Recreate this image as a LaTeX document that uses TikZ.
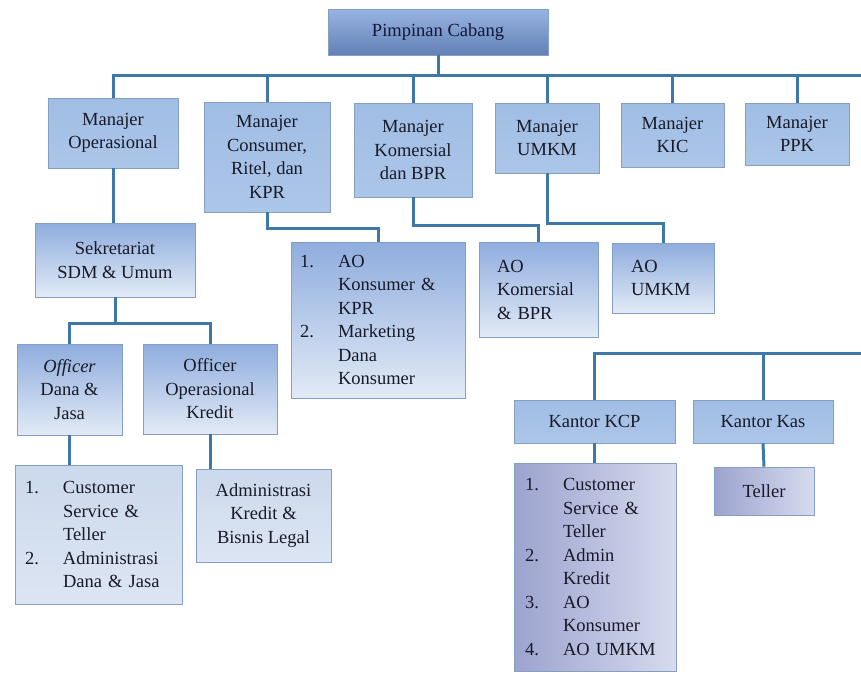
\documentclass[tikz,border=0pt]{standalone}
\usepackage{fontspec}
\setmainfont{Liberation Serif}
\definecolor{linec}{RGB}{62,120,168}
\definecolor{edgec}{RGB}{132,158,198}
\definecolor{txtc}{RGB}{24,26,40}
\newlength{\lblw}
\setlength{\lblw}{38pt}
\newcommand{\itm}[2]{\makebox[\lblw][l]{#1}#2}
\newcommand{\cnt}[1]{\hspace*{\lblw}#1}
\begin{document}
\begin{tikzpicture}[x=1pt,y=-1pt]
    \tikzset{
        box/.style={draw=edgec, line width=0.6pt, inner sep=0pt, text=txtc,
            font=\fontsize{18.5}{23.5}\selectfont},
        head/.style={box, top color={rgb,255:red,152;green,180;blue,228},
            bottom color={rgb,255:red,98;green,128;blue,180}, text={rgb,255:red,18;green,24;blue,56}},
        mgr/.style={box, align=center, top color={rgb,255:red,160;green,189;blue,228},
            bottom color={rgb,255:red,172;green,198;blue,232}},
        sub/.style={box, top color={rgb,255:red,143;green,173;blue,222},
            bottom color={rgb,255:red,226;green,234;blue,246}},
        pale/.style={box, top color={rgb,255:red,204;green,217;blue,236},
            bottom color={rgb,255:red,220;green,229;blue,243}},
        lilac/.style={box, left color={rgb,255:red,156;green,163;blue,206},
            right color={rgb,255:red,214;green,219;blue,238}},
        link/.style={draw=linec, line width=3pt}
    }
    \useasboundingbox (0,0) rectangle (861,673);

    % top level
    \draw node[head, minimum width=220, minimum height=46] (pc) at (438,32) {Pimpinan Cabang};
    \draw node[mgr, minimum width=130, minimum height=70] (mo) at (113,133) {Manajer\\Operasional};
    \draw node[mgr, minimum width=126, minimum height=110] (mc) at (267,157) {Manajer\\Consumer,\\Ritel, dan\\KPR};
    \draw node[mgr, minimum width=118, minimum height=94] (mk) at (413,150) {Manajer\\Komersial\\dan BPR};
    \draw node[mgr, minimum width=104, minimum height=70] (mu) at (547,138) {Manajer\\UMKM};
    \draw node[mgr, minimum width=103, minimum height=64] (mkic) at (672.5,135) {Manajer\\KIC};
    \draw node[mgr, minimum width=104, minimum height=62] (mppk) at (797,134) {Manajer\\PPK};

    % operasional branch
    \draw node[sub, align=center, minimum width=160, minimum height=74] (sk) at (115,260) {Sekretariat\\SDM \& Umum};
    \draw node[sub, align=center, minimum width=105, minimum height=91] (od) at (69.5,389.5) {\textit{Officer}\\Dana \&\\Jasa};
    \draw node[sub, align=center, minimum width=134, minimum height=90] (ok) at (210,389) {Officer\\Operasional\\Kredit};
    \draw node[pale, align=left, text width=147, minimum width=167, minimum height=139] (l1) at (98.5,534.5)
        {\itm{1.}{Customer}\\\cnt{Service \&}\\\cnt{Teller}\\\itm{2.}{Administrasi}\\\cnt{Dana \& Jasa}};
    \draw node[pale, align=center, minimum width=135, minimum height=93] (l2) at (263.5,515.5) {Administrasi\\Kredit \&\\Bisnis Legal};

    % AO boxes
    \draw node[sub, align=left, text width=156, minimum width=174, minimum height=156] (ak) at (378,320)
        {\itm{1.}{AO}\\\cnt{Konsumer \&}\\\cnt{KPR}\\\itm{2.}{Marketing}\\\cnt{Dana}\\\cnt{Konsumer}};
    \draw node[sub, align=left, text width=83, minimum width=119, minimum height=95] (ako) at (538.5,289.5) {AO\\Komersial\\\& BPR};
    \draw node[sub, align=left, text width=64, minimum width=102, minimum height=70] (au) at (663,278) {AO\\UMKM};

    % kantor
    \draw node[mgr, minimum width=161, minimum height=43] (kcp) at (594.5,421.5) {Kantor KCP};
    \draw node[mgr, minimum width=140, minimum height=43] (kas) at (763,421.5) {Kantor Kas};
    \draw node[lilac, align=left, text width=140, minimum width=162, minimum height=208] (l3) at (595,567)
        {\itm{1.}{Customer}\\\cnt{Service \&}\\\cnt{Teller}\\\itm{2.}{Admin}\\\cnt{Kredit}\\\itm{3.}{AO}\\\cnt{Konsumer}\\\itm{4.}{AO UMKM}};
    \draw node[lilac, minimum width=100, minimum height=48] (tl) at (764,491) {Teller};

    % connectors
    \coordinate (busa) at (861,75);
    \coordinate (busb) at (861,353);
    \draw[link] (mo.north) |- (busa);
    \draw[link] (pc.south) -- (pc.south |- busa);
    \foreach \n in {mc,mk,mu,mkic,mppk}{
        \draw[link] (\n.north) -- (\n.north |- busa);
    }
    \draw[link] (mo.south) -- (mo.south |- sk.north);
    \draw[link] (sk.south) -- ++(0,26) coordinate (skj);
    \draw[link] (od.north) |- (skj) -| (ok.north);
    \draw[link] (od.south) -- (od.south |- l1.north);
    \draw[link] (ok.south) -- (ok.south |- l2.north);
    \draw[link] (mc.south) -- ++(0,16) -| (ak.north);
    \draw[link] (mk.south) -- ++(0,28) -| (ako.north);
    \draw[link] (mu.south) -- ++(0,50) -| (au.north);
    \draw[link] (kcp.north) |- (busb);
    \draw[link] (kas.north) -- (kas.north |- busb);
    \draw[link] (kcp.south) -- (kcp.south |- l3.north);
    \draw[link] (kas.south) -- (tl.north);
\end{tikzpicture}
\end{document}
